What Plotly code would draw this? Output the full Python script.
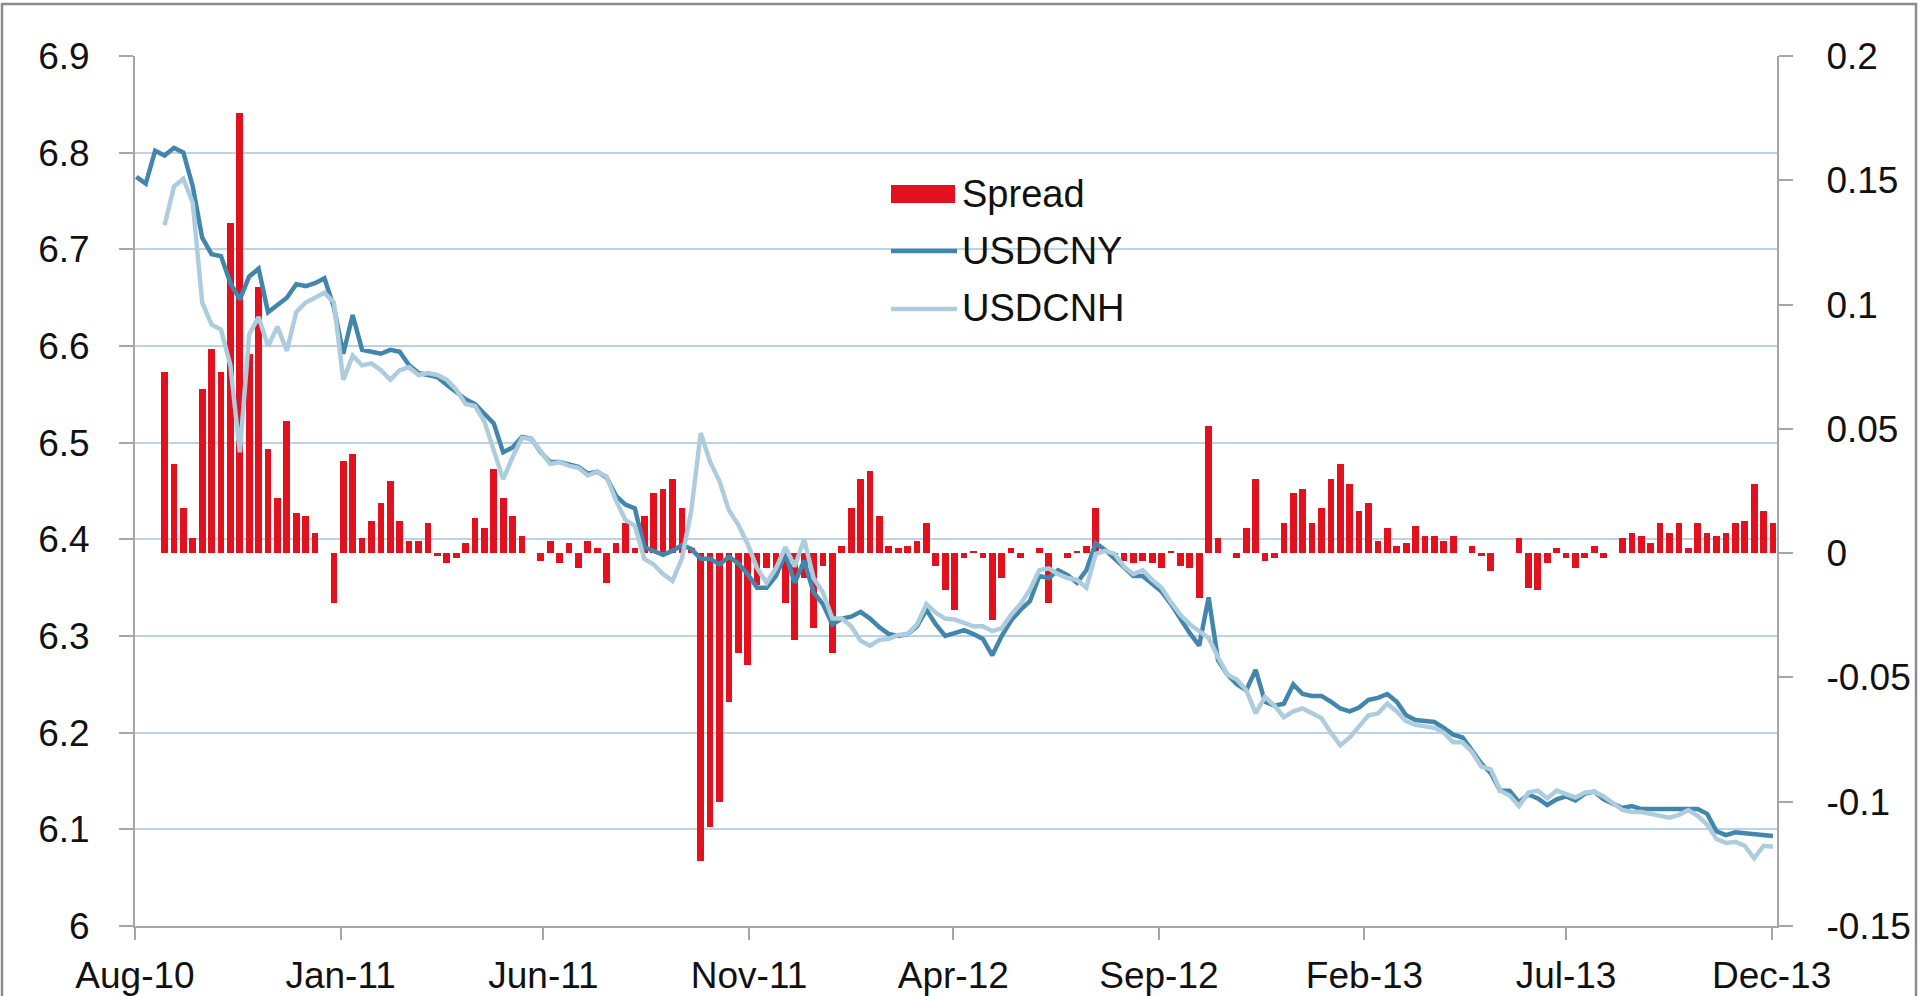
import plotly.graph_objects as go
import pandas as pd

# ---------------- data (weekly readings) ----------------
dates = pd.date_range("2010-08-02", periods=175, freq="7D")

usdcny = [
    6.775, 6.768, 6.802, 6.797, 6.805, 6.800, 6.765, 6.712, 6.695, 6.693,
    6.665, 6.648, 6.672, 6.680, 6.635, 6.642, 6.650, 6.664, 6.662, 6.665,
    6.670, 6.640, 6.592, 6.632, 6.596, 6.594, 6.592, 6.596, 6.594, 6.580,
    6.572, 6.570, 6.568, 6.560, 6.552, 6.545,
    6.540, 6.530, 6.520, 6.490, 6.495, 6.506, 6.504, 6.490, 6.480, 6.480,
    6.478, 6.475, 6.468, 6.470, 6.464, 6.445, 6.436, 6.432, 6.392, 6.388,
    6.384, 6.388, 6.394, 6.390, 6.380, 6.380, 6.374, 6.382, 6.375, 6.364,
    6.350, 6.350, 6.362, 6.385, 6.355,
    6.378, 6.345, 6.333, 6.312, 6.318, 6.320, 6.325, 6.318, 6.309, 6.302,
    6.300, 6.302, 6.310, 6.327, 6.312, 6.300, 6.303, 6.306, 6.302, 6.297,
    6.280, 6.300, 6.316, 6.327, 6.336, 6.362, 6.360, 6.368, 6.363, 6.355,
    6.368, 6.396, 6.389, 6.380, 6.370,
    6.362, 6.362, 6.354, 6.346, 6.333, 6.317, 6.303, 6.290, 6.340, 6.275,
    6.260, 6.250, 6.244, 6.265, 6.232, 6.228, 6.230, 6.250, 6.240, 6.238,
    6.238, 6.232, 6.225, 6.222, 6.226, 6.234, 6.236, 6.240, 6.232, 6.218,
    6.213, 6.212, 6.211, 6.205, 6.198,
    6.195, 6.182, 6.168, 6.158, 6.140, 6.140, 6.128, 6.136, 6.132, 6.125,
    6.131, 6.134, 6.130, 6.137, 6.139, 6.131, 6.126, 6.122, 6.124, 6.121,
    6.121, 6.121, 6.121, 6.122, 6.122, 6.121, 6.116, 6.098, 6.094, 6.097,
    6.096, 6.095, 6.094, 6.093,
]

usdcnh = [
    None, None, None,
    6.725, 6.765, 6.773, 6.748, 6.645, 6.622, 6.617, 6.580, 6.490, 6.612,
    6.630, 6.600, 6.620, 6.595, 6.635, 6.645, 6.650, 6.655, 6.645, 6.565,
    6.590, 6.580, 6.582, 6.575, 6.565, 6.575, 6.578, 6.570, 6.572, 6.570,
    6.565, 6.555, 6.540,
    6.538, 6.522, 6.490, 6.462, 6.485, 6.505, 6.504, 6.490, 6.478, 6.480,
    6.476, 6.474, 6.466, 6.470, 6.465, 6.440, 6.420, 6.414, 6.380, 6.374,
    6.364, 6.357, 6.380, 6.430, 6.510, 6.480, 6.460, 6.430, 6.415, 6.395,
    6.370, 6.355, 6.370, 6.392, 6.372,
    6.400, 6.360, 6.345, 6.318, 6.318, 6.310, 6.295, 6.290, 6.296, 6.297,
    6.301, 6.302, 6.312, 6.333, 6.324, 6.318, 6.317, 6.313, 6.310, 6.310,
    6.305, 6.308, 6.322, 6.333, 6.348, 6.368, 6.370, 6.364, 6.360, 6.358,
    6.350, 6.385, 6.388, 6.385, 6.372,
    6.364, 6.368, 6.358, 6.350, 6.335, 6.322, 6.312, 6.305, 6.298, 6.278,
    6.260, 6.255, 6.244, 6.220, 6.237, 6.228, 6.216, 6.222, 6.225, 6.220,
    6.215, 6.200, 6.187, 6.195, 6.206, 6.218, 6.220, 6.230, 6.222, 6.212,
    6.208, 6.207, 6.205, 6.200, 6.190,
    6.190, 6.180, 6.165, 6.162, 6.140, 6.135, 6.124, 6.138, 6.140, 6.132,
    6.140, 6.136, 6.133, 6.138, 6.139, 6.134, 6.127, 6.120, 6.118, 6.118,
    6.116, 6.114, 6.112, 6.115, 6.120, 6.114, 6.105, 6.090, 6.086, 6.087,
    6.083, 6.070, 6.083, 6.082,
]

spread = [
    None, None, None,
    0.073, 0.036, 0.018, 0.006, 0.066, 0.082, 0.073, 0.133, 0.177, 0.080,
    0.107, 0.042, 0.022, 0.053, 0.016, 0.015, 0.008, 0.000, -0.020, 0.037,
    0.040, 0.006, 0.013, 0.020, 0.029, 0.013, 0.005, 0.005, 0.012, -0.001,
    -0.004, -0.002, 0.004,
    0.014, 0.010, 0.034, 0.022, 0.015, 0.007, 0.000, -0.003, 0.005, -0.004,
    0.004, -0.006, 0.005, 0.002, -0.012, 0.004, 0.012, 0.002, 0.015, 0.024,
    0.026, 0.030, 0.018, 0.002, -0.124, -0.110, -0.100, -0.060, -0.040, -0.045,
    -0.013, -0.006, -0.008, -0.020, -0.035,
    -0.010, -0.030, -0.005, -0.040, 0.003, 0.018, 0.030, 0.033, 0.015, 0.003,
    0.002, 0.003, 0.005, 0.012, -0.005, -0.015, -0.023, -0.002, 0.001, -0.002,
    -0.027, -0.010, 0.002, -0.002, 0.000, 0.002, -0.020, 0.000, -0.002, 0.001,
    0.003, 0.018, 0.000, -0.001, -0.003,
    -0.004, -0.003, -0.004, -0.006, 0.001, -0.005, -0.006, -0.018, 0.051, 0.006,
    0.000, -0.002, 0.010, 0.030, -0.003, -0.002, 0.012, 0.024, 0.026, 0.012,
    0.018, 0.030, 0.036, 0.028, 0.017, 0.020, 0.005, 0.010, 0.003, 0.004,
    0.011, 0.007, 0.007, 0.005, 0.007,
    0.000, 0.003, -0.001, -0.007, 0.000, 0.000, 0.006, -0.014, -0.015, -0.004,
    0.002, -0.002, -0.006, -0.002, 0.003, -0.002, 0.000, 0.006, 0.008, 0.007,
    0.004, 0.012, 0.008, 0.012, 0.002, 0.012, 0.008, 0.007, 0.008, 0.012,
    0.013, 0.028, 0.017, 0.012,
]

x_tick_dates = ["2010-08-01", "2011-01-01", "2011-06-01", "2011-11-01", "2012-04-01",
                "2012-09-01", "2013-02-01", "2013-07-01", "2013-12-01"]
x_tick_labels = ["Aug-10", "Jan-11", "Jun-11", "Nov-11", "Apr-12",
                 "Sep-12", "Feb-13", "Jul-13", "Dec-13"]
left_ticks = [6.0, 6.1, 6.2, 6.3, 6.4, 6.5, 6.6, 6.7, 6.8, 6.9]
left_labels = ["6", "6.1", "6.2", "6.3", "6.4", "6.5", "6.6", "6.7", "6.8", "6.9"]
right_ticks = [-0.15, -0.1, -0.05, 0, 0.05, 0.1, 0.15, 0.2]
right_labels = ["-0.15", "-0.1", "-0.05", "0", "0.05", "0.1", "0.15", "0.2"]

# ---------------- styling ----------------
RED = "#E3111D"
DARK = "#4386AD"
LIGHT = "#ADCDDF"
GRID = "#B9D3E8"
AXIS = "#A6A6A6"
FONT = "Liberation Sans, Arial, sans-serif"

W, H = 1920, 996
ML, MR, MT, MB = 135, 143, 56, 70
PW, PH = W - ML - MR, H - MT - MB


def px(xp):
    return (xp - ML) / PW


def py(yp):
    return (H - MB - yp) / PH


fig = go.Figure()
fig.add_trace(go.Bar(
    x=dates, y=spread, yaxis="y", name="Spread",
    marker=dict(color=RED, line=dict(width=0)),
    width=5 * 86400000, showlegend=False,
))
fig.add_trace(go.Scatter(
    x=dates, y=usdcny, yaxis="y2", mode="lines", name="USDCNY",
    line=dict(color=DARK, width=4.5), showlegend=False,
))
fig.add_trace(go.Scatter(
    x=dates, y=usdcnh, yaxis="y2", mode="lines", name="USDCNH",
    line=dict(color=LIGHT, width=4.5), showlegend=False,
))

tickfont = dict(family=FONT, size=37, color="#111111")

fig.update_layout(
    width=W, height=H, autosize=False,
    margin=dict(l=ML, r=MR, t=MT, b=MB, pad=0, autoexpand=False),
    paper_bgcolor="white", plot_bgcolor="white",
    font=dict(family=FONT, size=37, color="#111111"),
    showlegend=False,
    bargap=0,
    xaxis=dict(
        type="date", range=["2010-08-01", "2013-12-05"],
        tickmode="array", tickvals=x_tick_dates, ticktext=x_tick_labels,
        ticks="outside", ticklen=12, tickwidth=2, tickcolor=AXIS,
        showline=True, linecolor=AXIS, linewidth=2,
        showgrid=False, zeroline=False, tickfont=tickfont,
        ticklabelstandoff=4, automargin=False,
    ),
    yaxis=dict(
        side="right", range=[-0.15, 0.2],
        tickmode="array", tickvals=right_ticks, ticktext=right_labels,
        ticks="outside", ticklen=14, tickwidth=2, tickcolor=AXIS,
        showline=True, linecolor=AXIS, linewidth=2,
        showgrid=False, zeroline=False, tickfont=tickfont,
        ticklabelstandoff=26, automargin=False,
    ),
    yaxis2=dict(
        side="left", overlaying="y", range=[6.0, 6.9],
        tickmode="array", tickvals=left_ticks, ticktext=left_labels,
        ticks="outside", ticklen=14, tickwidth=2, tickcolor=AXIS,
        showline=True, linecolor=AXIS, linewidth=2,
        showgrid=True, gridcolor=GRID, gridwidth=2,
        zeroline=False, tickfont=tickfont,
        ticklabelstandoff=22, automargin=False,
    ),
)

# ---------------- legend (drawn as in the original) ----------------
shapes = [
    dict(type="rect", xref="paper", yref="paper",
         x0=px(891), x1=px(955), y0=py(203), y1=py(185),
         fillcolor=RED, line=dict(width=0)),
    dict(type="line", xref="paper", yref="paper",
         x0=px(891), x1=px(957), y0=py(251), y1=py(251),
         line=dict(color=DARK, width=4.5)),
    dict(type="line", xref="paper", yref="paper",
         x0=px(891), x1=px(957), y0=py(309), y1=py(309),
         line=dict(color=LIGHT, width=4.5)),
    # outer frame of the picture
    dict(type="rect", xref="paper", yref="paper",
         x0=px(2), x1=px(1916), y0=py(1004), y1=py(4),
         fillcolor="rgba(0,0,0,0)", line=dict(color="#8C8C8C", width=2.5),
         layer="above"),
]
legend_items = [("Spread", 194), ("USDCNY", 251), ("USDCNH", 308)]
annotations = [
    dict(text=name, xref="paper", yref="paper", x=px(960), y=py(yc),
         xanchor="left", yanchor="middle", showarrow=False,
         font=dict(family=FONT, size=38, color="#111111"))
    for name, yc in legend_items
]
fig.update_layout(shapes=shapes, annotations=annotations)

fig.write_html(
    "out.html",
    config={"displayModeBar": False},
    post_script="document.body.style.margin='0';document.body.style.overflow='hidden';",
)
